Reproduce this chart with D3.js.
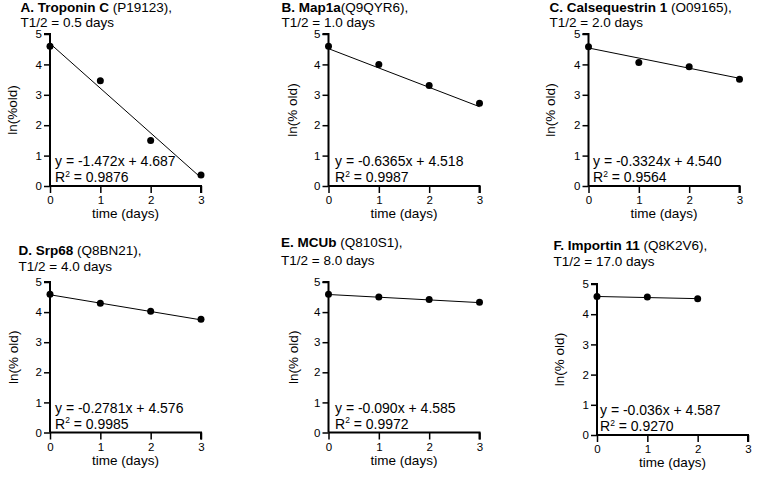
<!DOCTYPE html>
<html><head><meta charset="utf-8">
<script src="https://cdn.jsdelivr.net/npm/d3@7"></script>
<style>
body{margin:0;background:#fff;}
text{font-family:"Liberation Sans",Arial,Helvetica,sans-serif;fill:#000;}
</style></head>
<body><svg id="c" width="775" height="478"></svg>
<script>
// ---- data ----
const panelLetters = ["A.", "B.", "C.", "D.", "E.", "F."];
const proteinNames = ["Troponin C", "Map1a", "Calsequestrin 1", "Srp68", "MCUb", "Importin 11"];
const accessions = [" (P19123),", "(Q9QYR6),", " (O09165),", " (Q8BN21),", " (Q810S1),", " (Q8K2V6),"];
const halfLives = ["0.5", "1.0", "2.0", "4.0", "8.0", "17.0"];
const timeDays = [0, 1, 2, 3];
const lnOldA = [4.60, 3.46, 1.50, 0.36];
const lnOldB = [4.60, 4.00, 3.31, 2.72];
const lnOldC = [4.58, 4.06, 3.92, 3.51];
const lnOldD = [4.59, 4.29, 4.03, 3.76];
const lnOldE = [4.59, 4.50, 4.42, 4.33];
const lnOldF = [4.59, 4.57, 4.51];
const slopes = [-1.472, -0.6365, -0.3324, -0.2781, -0.090, -0.036];
const intercepts = [4.687, 4.518, 4.540, 4.576, 4.585, 4.587];
const slopeLabels = ["-1.472", "-0.6365", "-0.3324", "-0.2781", "-0.090", "-0.036"];
const interceptLabels = ["4.687", "4.518", "4.540", "4.576", "4.585", "4.587"];
const r2Labels = ["0.9876", "0.9987", "0.9564", "0.9985", "0.9972", "0.9270"];
const yLabels = ["ln(%old)", "ln(% old)", "ln(% old)", "ln(% old)", "ln(% old)", "ln(% old)"];
const yTicks = [0, 1, 2, 3, 4, 5];
const xTicks = [0, 1, 2, 3];
const xAxisTitle = "time (days)";
const seriesList = [lnOldA, lnOldB, lnOldC, lnOldD, lnOldE, lnOldF];

// ---- layout ----
const layout = [
  {ax: 50,  top: 34,  bot: 186, titleX: 20.5, t1: 11.5, t2: 27, ylx: 13, eqX: 55},
  {ax: 328.5, top: 34, bot: 186, titleX: 281.5, t1: 11.5, t2: 27, ylx: 293, eqX: 335},
  {ax: 588.5, top: 34, bot: 186, titleX: 549.5, t1: 11.5, t2: 27, ylx: 551.5, eqX: 593},
  {ax: 50,  top: 282, bot: 432.5, titleX: 18.5, t1: 255, t2: 270.5, ylx: 14, eqX: 55},
  {ax: 328.5, top: 282, bot: 432.5, titleX: 281, t1: 247, t2: 265, ylx: 294, eqX: 335},
  {ax: 597, top: 284, bot: 435, titleX: 553.5, t1: 250, t2: 265.5, ylx: 560, eqX: 600}
];
const plotW = 151;

const svg = d3.select("#c");

layout.forEach((L, i) => {
  const g = svg.append("g");
  const x = d3.scaleLinear().domain([0, 3]).range([L.ax, L.ax + plotW]);
  const y = d3.scaleLinear().domain([0, 5]).range([L.bot, L.top]);

  // title
  const t = g.append("text").attr("x", L.titleX).attr("y", L.t1).attr("font-size", 13.5);
  t.append("tspan").attr("font-weight", "bold").text(panelLetters[i] + " " + proteinNames[i]);
  t.append("tspan").text(accessions[i]);
  g.append("text").attr("x", L.titleX).attr("y", L.t2).attr("font-size", 13.5)
    .text("T1/2 = " + halfLives[i] + " days");

  // axes
  const yAxis = d3.axisLeft(y).tickValues(yTicks).tickSize(6).tickPadding(2).tickFormat(d3.format("d"));
  const ya = g.append("g").attr("transform", `translate(${L.ax},0)`).call(yAxis);
  const xAxis = d3.axisBottom(x).tickValues(xTicks).tickSize(7).tickPadding(3).tickFormat(d3.format("d"));
  const xa = g.append("g").attr("transform", `translate(0,${L.bot})`).call(xAxis);
  [ya, xa].forEach(a => {
    a.select(".domain").attr("stroke", "#000").attr("stroke-width", 2);
    a.selectAll(".tick line").attr("stroke", "#000").attr("stroke-width", 1.5);
    a.selectAll(".tick text").attr("font-size", 11.5).attr("font-family", "Liberation Sans, Arial, sans-serif").attr("fill", "#000");
  });
  ya.select(".domain").attr("d", `M0,${L.bot}V${L.top}H-6`);
  xa.select(".domain").attr("d", `M${L.ax},0H${L.ax + plotW}V7`);

  // axis labels
  g.append("text").attr("transform", `translate(${L.ylx},${(L.top + L.bot) / 2}) rotate(-90)`)
    .attr("text-anchor", "middle").attr("dominant-baseline", "middle").attr("font-size", 13.5)
    .text(yLabels[i]);
  g.append("text").attr("x", L.ax + plotW / 2).attr("y", L.bot + 32).attr("text-anchor", "middle")
    .attr("font-size", 13.5).text(xAxisTitle);

  // regression line
  const vals = seriesList[i];
  const xmax = timeDays[vals.length - 1];
  g.append("line")
    .attr("x1", x(0)).attr("y1", y(intercepts[i]))
    .attr("x2", x(xmax)).attr("y2", y(intercepts[i] + slopes[i] * xmax))
    .attr("stroke", "#000").attr("stroke-width", 1);

  // points
  g.selectAll("circle.pt").data(vals).enter().append("circle")
    .attr("cx", (d, j) => x(timeDays[j])).attr("cy", d => y(d)).attr("r", 3.5).attr("fill", "#000");

  // equation
  g.append("text").attr("x", L.eqX).attr("y", L.bot - 20).attr("font-size", 14)
    .text("y = " + slopeLabels[i] + "x + " + interceptLabels[i]);
  const r = g.append("text").attr("x", L.eqX).attr("y", L.bot - 4).attr("font-size", 14);
  r.append("tspan").text("R");
  r.append("tspan").attr("font-size", 8.5).attr("dy", -5.5).text("2");
  r.append("tspan").attr("dy", 5.5).text(" = " + r2Labels[i]);
});
</script></body></html>
